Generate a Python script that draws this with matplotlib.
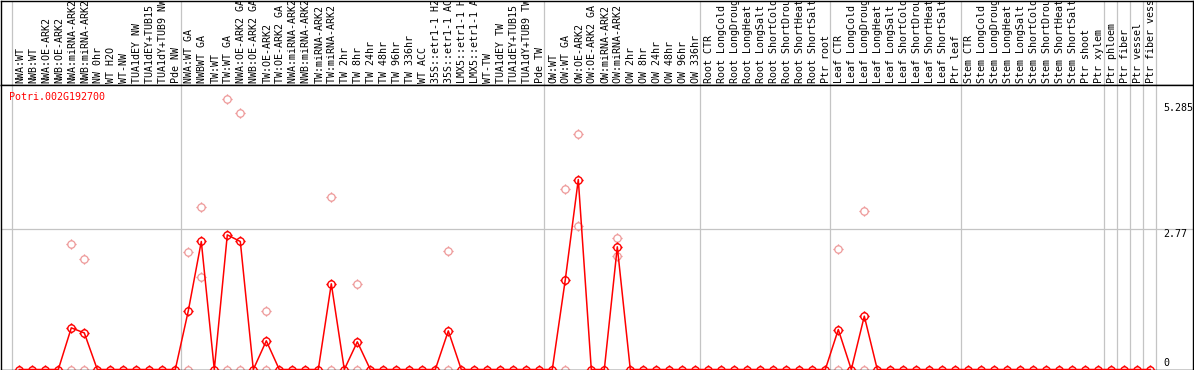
import numpy as np
import matplotlib
matplotlib.use("Agg")
import matplotlib.pyplot as plt
from matplotlib.path import Path
from matplotlib.transforms import blended_transform_factory

gene = "Potri.002G192700"

# sample names, grouped the way the vertical separators split them
group_nw = ["NWA:WT", "NWB:WT", "NWA:OE-ARK2", "NWB:OE-ARK2", "NWA:miRNA-ARK2",
            "NWB:miRNA-ARK2", "NW 0hr", "WT H2O", "WT-NW", "TUA1dEY NW",
            "TUA1dEY+TUB15 NW", "TUA1dY+TUB9 NW", "Pde NW"]
group_tw = ["NWA:WT GA", "NWBWT GA", "TW:WT", "TW:WT GA", "NWA:OE-ARK2 GA",
            "NWB:OE-ARK2 GA", "TW:OE-ARK2", "TW:OE-ARK2 GA", "NWA:miRNA-ARK2 GA",
            "NWB:miRNA-ARK2 GA", "TW:miRNA-ARK2", "TW:miRNA-ARK2 GA", "TW 2hr",
            "TW 8hr", "TW 24hr", "TW 48hr", "TW 96hr", "TW 336hr", "WT ACC",
            "35S::etr1-1 H2O", "35S::etr1-1 ACC", "LMX5::etr1-1 H2O",
            "LMX5::etr1-1 ACC", "WT-TW", "TUA1dEY TW", "TUA1dEY+TUB15 TW",
            "TUA1dY+TUB9 TW", "Pde TW"]
group_ow = ["OW:WT", "OW:WT GA", "OW:OE-ARK2", "OW:OE-ARK2 GA", "OW:miRNA-ARK2",
            "OW:miRNA-ARK2 GA", "OW 2hr", "OW 8hr", "OW 24hr", "OW 48hr",
            "OW 96hr", "OW 336hr"]
group_root = ["Root CTR", "Root LongCold", "Root LongDrought", "Root LongHeat",
              "Root LongSalt", "Root ShortCold", "Root ShortDrought",
              "Root ShortHeat", "Root ShortSalt", "Ptr root"]
group_leaf = ["Leaf CTR", "Leaf LongCold", "Leaf LongDrought", "Leaf LongHeat",
              "Leaf LongSalt", "Leaf ShortCold", "Leaf ShortDrought",
              "Leaf ShortHeat", "Leaf ShortSalt", "Ptr leaf"]
group_stem = ["Stem CTR", "Stem LongCold", "Stem LongDrought", "Stem LongHeat",
              "Stem LongSalt", "Stem ShortCold", "Stem ShortDrought",
              "Stem ShortHeat", "Stem ShortSalt", "Ptr shoot", "Ptr xylem"]
group_ptr = [["Ptr phloem"], ["Ptr fiber"], ["Ptr vessel"], ["Ptr fiber vessel"]]

# mean expression per sample (red line)
mean_nw = [0, 0, 0, 0, 0.82, 0.72, 0, 0, 0, 0, 0, 0, 0]
mean_tw = [1.155, 2.52, 0, 2.65, 2.52, 0, 0.565, 0, 0, 0, 0, 1.687, 0, 0.545,
           0, 0, 0, 0, 0, 0, 0.76, 0, 0, 0, 0, 0, 0, 0]
mean_ow = [0, 1.77, 3.74, 0, 0, 2.415, 0, 0, 0, 0, 0, 0]
mean_root = [0, 0, 0, 0, 0, 0, 0, 0, 0, 0]
mean_leaf = [0.787, 0, 1.05, 0, 0, 0, 0, 0, 0, 0]
mean_stem = [0, 0, 0, 0, 0, 0, 0, 0, 0, 0, 0]
mean_ptr = [0, 0, 0, 0]

# single replicates (pink circles): sample index and value
rep_idx = [4, 4, 5, 5, 13, 13, 14, 14, 16, 16, 17, 17, 19, 19, 24, 24, 26, 26,
           33, 33, 42, 42, 43, 43, 46, 46, 63, 63, 65, 65]
rep_val = [2.47, 0, 2.18, 0, 2.32, 0, 3.20, 1.82, 5.33, 0, 5.05, 0, 1.155, 0,
           3.39, 0, 1.68, 0, 2.34, 0, 3.56, 0, 4.64, 2.83, 2.59, 2.24, 2.375, 0,
           3.12, 0]

y_ticks = [0, 2.77, 5.285]
y_tick_labels = ["0", "2.77", "5.285"]


def main():
    groups = [group_nw, group_tw, group_ow, group_root, group_leaf, group_stem] + group_ptr
    labels = [s for g in groups for s in g]
    means = mean_nw + mean_tw + mean_ow + mean_root + mean_leaf + mean_stem + mean_ptr
    x = np.arange(len(labels))

    # group separators
    bounds = np.cumsum([0] + [len(g) for g in groups])

    W, H = 1194, 370
    fig = plt.figure(figsize=(W / 100, H / 100), dpi=100)

    def px_axes(x0, y0, x1, y1):
        return fig.add_axes([x0 / W, (H - y1) / H, (x1 - x0) / W, (y1 - y0) / H])

    step = 13.0
    xmin = -(19.3 - 0.5) / step
    xmax = xmin + 1192.0 / step

    lab_ax = px_axes(0.5, 0.5, 1192.5, 85)
    ax = px_axes(0.5, 85, 1192.5, 369.5)

    for a in (ax, lab_ax):
        a.set_xlim(xmin, xmax)
        a.set_xticks([])
        a.set_yticks([])
        for sp in a.spines.values():
            sp.set_color("black")
            sp.set_linewidth(1.0)
        for b in bounds:
            a.axvline(b - 0.6, color="#c4c4c4", lw=0.9, zorder=0)

    ax.set_ylim(0, (369.5 - 85) / 50.8)
    ax.axhline(2.77, color="#c4c4c4", lw=0.9, zorder=0)

    lab_ax.set_ylim(0, 84.5)
    for i, s in enumerate(labels):
        lab_ax.text(i + 0.08, 2.2, s, rotation=90, ha="center", va="bottom",
                    family="DejaVu Sans Mono", fontsize=7.2, clip_on=True)

    # circle with four little ticks
    circ = Path.unit_circle()
    ticks = Path([(0, 1), (0, 1.4), (0, -1), (0, -1.4), (1, 0), (1.4, 0), (-1, 0), (-1.4, 0)],
                 [Path.MOVETO, Path.LINETO] * 4)
    mk = Path.make_compound_path(circ, ticks)

    ax.plot(rep_idx, rep_val, linestyle="none", marker=mk, markersize=7.4,
            markerfacecolor="none", markeredgecolor="#ee9a9a", markeredgewidth=0.9,
            zorder=2)
    ax.plot(x, means, color="#ff0000", lw=1.1, marker=mk, markersize=7.4,
            markerfacecolor="none", markeredgecolor="#ff0000", markeredgewidth=1.0,
            zorder=3)

    tr = blended_transform_factory(fig.transFigure, ax.transData)
    ax.text(1163 / W, 5.285 - 1.5 / 50.8, y_tick_labels[2], transform=tr, ha="left",
            va="top", family="DejaVu Sans Mono", fontsize=7.2, clip_on=False)
    ax.text(1163 / W, 2.77 - 0.6 / 50.8, y_tick_labels[1], transform=tr, ha="left",
            va="top", family="DejaVu Sans Mono", fontsize=7.2, clip_on=False)
    ax.text(1163 / W, y_ticks[0] + 3.5 / 50.8, y_tick_labels[0], transform=tr, ha="left",
            va="baseline", family="DejaVu Sans Mono", fontsize=7.2, clip_on=False)

    fig.text(9.3 / W, 1 - 92.5 / H, gene, color="#ff0000", ha="left", va="top",
             family="DejaVu Sans Mono", fontsize=7.2)

    fig.savefig("out.png", dpi=100)


if __name__ == "__main__":
    main()
